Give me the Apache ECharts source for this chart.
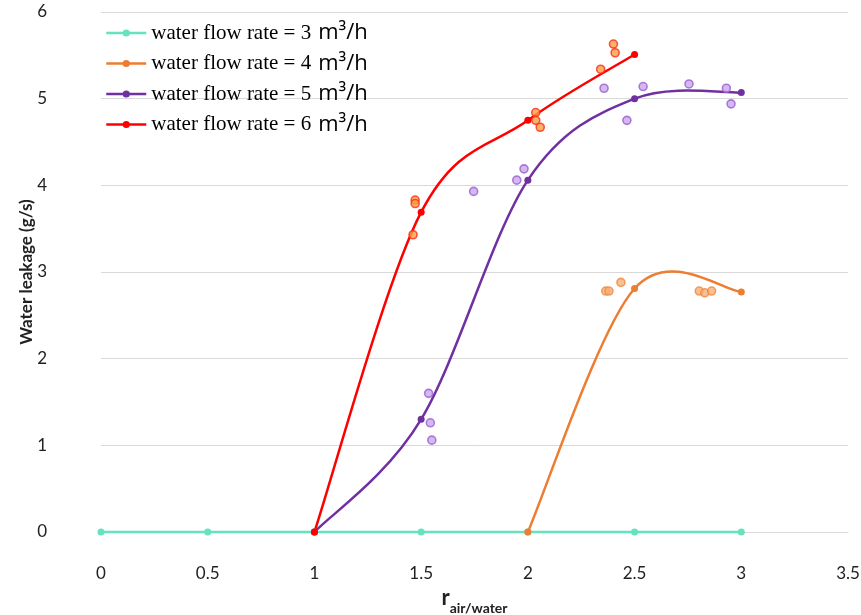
<!DOCTYPE html>
<html>
<head>
<meta charset="utf-8">
<script src="https://cdn.jsdelivr.net/npm/echarts@6/dist/echarts.min.js"></script>
<style>
html,body{margin:0;padding:0;background:#fff;}
#chart{width:861px;height:615px;}
</style>
</head>
<body>
<div id="chart"></div>
<script>
// Tick values
const xTicks = [0, 0.5, 1, 1.5, 2, 2.5, 3, 3.5];
const yTicks = [0, 1, 2, 3, 4, 5, 6];

// Flow rates (legend)
const flowRates = [3, 4, 5, 6];

// Fitted-line points [r, leakage]
const line3 = [[0,0],[0.5,0],[1,0],[1.5,0],[2,0],[2.5,0],[3,0]];
const line4 = [[2,0],[2.5,2.81],[3,2.77]];
const line5 = [[1,0],[1.5,1.30],[2,4.06],[2.5,5.00],[3,5.07]];
const line6 = [[1,0],[1.5,3.69],[2,4.75],[2.5,5.51]];

// Measured (scattered) points [r, leakage]
const meas4 = [[2.365,2.78],[2.38,2.78],[2.436,2.88],[2.803,2.78],[2.829,2.76],[2.861,2.78]];
const meas5 = [[1.535,1.60],[1.543,1.26],[1.55,1.06],[1.746,3.93],[1.948,4.06],[1.982,4.19],
               [2.357,5.12],[2.464,4.75],[2.54,5.14],[2.755,5.17],[2.93,5.12],[2.952,4.94]];
const meas6 = [[1.462,3.43],[1.472,3.83],[1.472,3.79],[2.037,4.84],[2.037,4.75],[2.058,4.67],
               [2.341,5.34],[2.401,5.63],[2.409,5.53]];

const colors = ['#64e3be', '#ed7d31', '#7030a0', '#ff0000'];
const names = flowRates.map(f => 'water flow rate = ' + f + ' m³/h');
const lines = [line3, line4, line5, line6];

const chart = echarts.init(document.getElementById('chart'));

// markers + legend entry (line itself drawn by the smooth custom series)
function markerSeries(i) {
  return {
    name: names[i], type: 'line', data: lines[i],
    symbol: 'circle', symbolSize: 7, showSymbol: true,
    lineStyle: { color: colors[i], width: 2.5, opacity: 0 },
    itemStyle: { color: colors[i] },
    z: 5
  };
}
// Catmull-Rom (Excel-style) smoothed curve through the points, via axis scales
function curveSeries(i) {
  const pts = lines[i];
  return {
    type: 'custom', data: pts, silent: true, z: 3,
    encode: { x: 0, y: 1 },
    renderItem: function (params, api) {
      if (params.dataIndex !== 0) return null;
      const p = pts.map(d => api.coord(d));
      const n = p.length;
      let path = 'M' + p[0][0] + ' ' + p[0][1];
      for (let k = 0; k < n - 1; k++) {
        const p0 = p[Math.max(k - 1, 0)], p1 = p[k], p2 = p[k + 1], p3 = p[Math.min(k + 2, n - 1)];
        const c1x = p1[0] + (p2[0] - p0[0]) / 6, c1y = p1[1] + (p2[1] - p0[1]) / 6;
        const c2x = p2[0] - (p3[0] - p1[0]) / 6, c2y = p2[1] - (p3[1] - p1[1]) / 6;
        path += ' C' + c1x + ' ' + c1y + ' ' + c2x + ' ' + c2y + ' ' + p2[0] + ' ' + p2[1];
      }
      return {
        type: 'path',
        shape: { pathData: path },
        style: { fill: 'none', stroke: colors[i], lineWidth: 2.5 }
      };
    }
  };
}
function scatterSeries(data, border, fill) {
  return {
    type: 'scatter', data: data, symbol: 'circle', symbolSize: 8,
    itemStyle: { color: fill, borderColor: border, borderWidth: 1.6 },
    z: 4, silent: true
  };
}

chart.setOption({
  animation: false,
  grid: { left: 101, right: 13, top: 12, bottom: 83, containLabel: false, outerBoundsMode: 'none' },
  legend: {
    data: names.map((n, i) => ({
      name: n,
      lineStyle: { color: colors[i], width: 2.5, opacity: 1 },
      itemStyle: { color: colors[i] }
    })),
    orient: 'vertical',
    left: 100, top: 17,
    itemWidth: 40, itemHeight: 9, itemGap: 8.5,
    formatter: function (n) {
      const f = n.match(/= (\d)/)[1];
      return '{a|water flow rate = ' + f + '}{sp|}{b|m³/h}';
    },
    textStyle: {
      rich: {
        a: { fontFamily: 'Liberation Serif', fontSize: 21, color: '#000', height: 21 },
        sp: { width: 7, height: 21 },
        b: { fontFamily: 'Open Sans', fontSize: 22, color: '#000', height: 21 }
      }
    }
  },
  xAxis: {
    type: 'value', min: 0, max: 3.5, interval: 0.5,
    name: '{r|r}{s|air/water}',
    nameLocation: 'middle', nameGap: 55,
    nameTextStyle: {
      rich: {
        r: { fontFamily: 'Lato', fontWeight: 'bold', fontSize: 22, color: '#222', verticalAlign: 'bottom' },
        s: { fontFamily: 'Lato', fontWeight: 'bold', fontSize: 14, color: '#222', verticalAlign: 'bottom', padding: [0,0,-6,0] }
      }
    },
    axisLine: { show: true, lineStyle: { color: '#d9d9d9', width: 1 } },
    axisTick: { show: false },
    splitLine: { show: false },
    axisLabel: { fontFamily: 'Lato', fontSize: 17, color: '#222', margin: 33,
      formatter: v => String(v) }
  },
  yAxis: {
    type: 'value', min: 0, max: 6, interval: 1,
    name: 'Water leakage (g/s)',
    nameLocation: 'middle', nameGap: 66, nameRotate: 90,
    nameMoveOverlap: false,
    nameTextStyle: { fontFamily: 'Lato', fontWeight: 'bold', fontSize: 17, color: '#222' },
    axisLine: { show: false },
    axisTick: { show: false },
    splitLine: { show: true, lineStyle: { color: '#d9d9d9', width: 1 } },
    axisLabel: { fontFamily: 'Lato', fontSize: 17, color: '#222', margin: 54 }
  },
  series: [
    markerSeries(0), markerSeries(1), markerSeries(2), markerSeries(3),
    curveSeries(0), curveSeries(1), curveSeries(2), curveSeries(3),
    scatterSeries(meas4, '#f08a3e', '#f5b07a'),
    scatterSeries(meas5, '#9b5fd0', '#c9a6ec'),
    scatterSeries(meas6, '#ff2a1a', '#f7a040')
  ]
});
</script>
</body>
</html>
